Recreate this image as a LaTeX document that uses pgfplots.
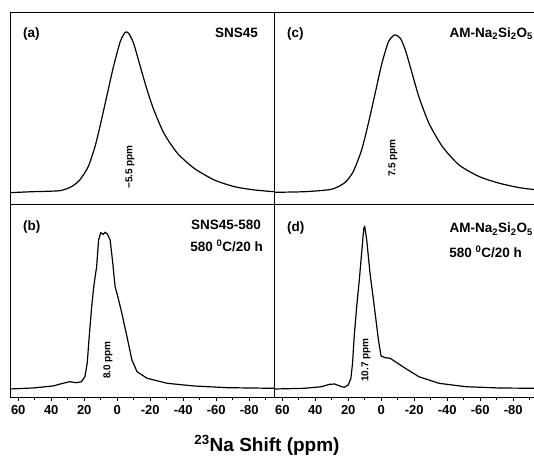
\documentclass[border=0pt]{standalone}
\usepackage{fontspec}
\setmainfont{Liberation Sans}
\usepackage{pgfplots}
\pgfplotsset{compat=1.18}
\begin{document}
\begin{tikzpicture}
\useasboundingbox (0pt,0pt) rectangle (534pt,455pt);
\pgfplotsset{
  panel/.style={scale only axis, width=264pt, x dir=reverse, xmin=-95, xmax=65, ymin=0,
    ytick=\empty, xtick=\empty, axis line style={line width=0.9pt}, anchor=south west},
  toppanel/.style={panel, height=192pt, ymax=192},
  bottompanel/.style={panel, height=193pt, ymax=193,
    xtick={60,40,20,0,-20,-40,-60,-80}, xticklabels={60,40,20,0,-20,-40,-60,-80},
    minor xtick={50,30,10,-10,-30,-50,-70,-90}, xtick pos=left, tick align=outside,
    major tick length=4pt, minor tick length=2.5pt, tick style={line width=0.8pt,black},
    xticklabel style={font=\fontsize{13}{13}\selectfont\bfseries, yshift=-1pt}},
  spec/.style={black, line width=1.2pt, no marks}
}
% (a)
\begin{axis}[toppanel, at={(10pt,251pt)}]
\addplot[spec, smooth, tension=0.4] coordinates {
(65.5,11.3)(51.4,12.3)(34.9,13.3)(27.8,17.3)(22.7,24)(17.6,37.3)(13.5,57.3)(10.5,77.3)
(6.4,107.3)(2.3,137.3)(-1.8,162.3)(-4.8,171.7)(-6.9,170.7)(-9.9,160.7)(-14.0,137.3)
(-18.1,114)(-22.2,94)(-28.3,70.7)(-36.5,50.7)(-46.6,35.7)(-58.8,24)(-71.1,17.3)(-83.3,14)(-95,12.3)};
\end{axis}
% (c)
\begin{axis}[toppanel, at={(274pt,251pt)}]
\addplot[spec, smooth, tension=0.4] coordinates {
(64.9,11.7)(46.5,12.3)(30.2,14.7)(22.1,21.3)(17,32.3)(11.9,54)(7.8,80.7)(3.7,110.7)
(-0.4,140.7)(-4.4,162.3)(-8.1,169)(-11.6,165.7)(-14.6,154)(-18.7,130.7)(-22.8,107.3)
(-28.9,80.7)(-37.1,57.3)(-47.2,39)(-59.5,27.3)(-71.7,20.7)(-83.9,16.3)(-95,14)};
\end{axis}
% (b)
\begin{axis}[bottompanel, at={(10pt,58pt)}]
\addplot[spec] coordinates {
(65.5,8)(51.3,9)(39,11)(32.9,13.7)(28.8,15.3)(24.7,14.3)(21.7,15.3)(19.6,20.3)(18.2,33.7)
(17,60.3)(15.5,90.3)(14.1,112)(12.5,130.3)(11.3,157)(10,164.3)(8.4,162.7)(7.4,164.7)
(6,163)(4.3,157)(2.7,133.7)(1.3,110.3)(-0.1,102)(-2.8,83.7)(-5.9,60.3)(-8.9,37)
(-12,25.3)(-18.1,18.7)(-30.3,13.7)(-46.6,11)(-67,9.3)(-95,8.7)};
\end{axis}
% (d)
\begin{axis}[bottompanel, at={(274pt,58pt)}]
\addplot[spec] coordinates {
(64.9,8)(46.5,8.7)(36.3,10.3)(31.3,12.7)(28.2,13)(25.1,11)(22.5,9.7)(20,12)(18.4,18.7)
(17.4,33.7)(16.4,60.3)(14.9,90.3)(13.3,117)(11.9,143.7)(10.6,168.7)(10,170.3)(8.8,157)
(6.8,123.7)(4.2,90.3)(1.7,57)(0.1,41)(-2.4,39.3)(-5.4,38.7)(-8.5,35.3)(-14.6,28.7)
(-22.8,20.3)(-35,13.7)(-51.3,10.3)(-71.7,9)(-95,8.7)};
\end{axis}
% panel texts
\begin{scope}[every node/.style={font=\fontsize{13.5}{14}\selectfont\bfseries, inner sep=0pt}]
\node[anchor=base west] at (23pt,417.5pt) {(a)};
\node[anchor=base east] at (258pt,417.5pt) {SNS45};
\node[anchor=base west] at (287pt,417.5pt) {(c)};
\node[anchor=base east] at (533pt,417.5pt) {AM-Na\textsubscript{2}Si\textsubscript{2}O\textsubscript{5}};
\node[anchor=base west] at (23pt,224pt) {(b)};
\node[anchor=base east] at (261pt,225pt) {SNS45-580};
\node[anchor=base east] at (263pt,203pt) {580 \textsuperscript{0}C/20 h};
\node[anchor=base west] at (287pt,223pt) {(d)};
\node[anchor=base east] at (533pt,222pt) {AM-Na\textsubscript{2}Si\textsubscript{2}O\textsubscript{5}};
\node[anchor=base east] at (522pt,197pt) {580 \textsuperscript{0}C/20 h};
\end{scope}
\begin{scope}[every node/.style={font=\fontsize{10}{10}\selectfont\bfseries, inner sep=0pt, rotate=90}]
\node at (130pt,288pt) {−5.5 ppm};
\node at (393pt,297pt) {7.5 ppm};
\node at (108pt,95pt) {8.0 ppm};
\node at (366pt,95pt) {10.7 ppm};
\end{scope}
\node[anchor=base, inner sep=0pt, font=\fontsize{19}{19}\selectfont\bfseries] at (267pt,4pt) {\textsuperscript{23}Na Shift (ppm)};
\end{tikzpicture}
\end{document}
